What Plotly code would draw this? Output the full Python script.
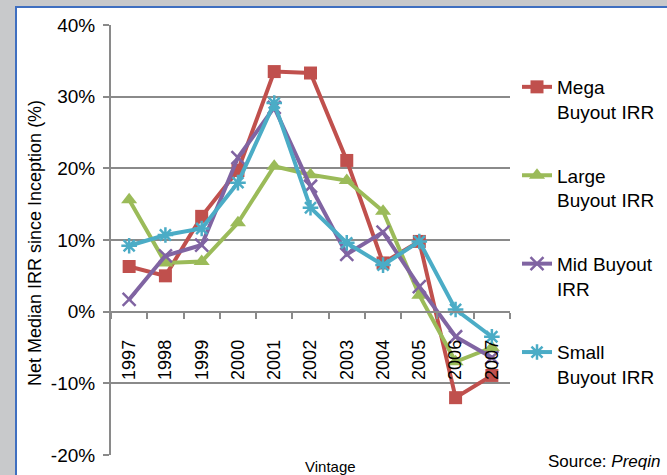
import plotly.graph_objects as go

years = ["1997", "1998", "1999", "2000", "2001", "2002", "2003", "2004", "2005", "2006", "2007"]
mega = [6.3, 5.0, 13.3, 19.7, 33.5, 33.3, 21.1, 6.8, 9.8, -12.0, -8.9]
large = [15.6, 6.8, 7.0, 12.4, 20.3, 19.1, 18.3, 14.0, 2.3, -7.0, -5.0]
mid = [1.7, 7.8, 9.3, 21.5, 28.5, 17.5, 8.0, 11.1, 3.5, -3.5, -6.4]
small = [9.2, 10.7, 11.6, 18.0, 29.1, 14.5, 9.6, 6.5, 9.8, 0.3, -3.5]
y_ticks = [-20, -10, 0, 10, 20, 30, 40]
y_ticklabels = ["-20%", "-10%", "0%", "10%", "20%", "30%", "40%"]

series = [
    ("Mega<br>Buyout IRR", mega, "#C0504D", dict(symbol="square", size=13)),
    ("Large<br>Buyout IRR", large, "#9BBB59", dict(symbol="triangle-up", size=14)),
    ("Mid Buyout<br>IRR", mid, "#8064A2", dict(symbol="x-thin-open", size=13, line=dict(width=2.5))),
    ("Small<br>Buyout IRR", small, "#4BACC6", dict(symbol="asterisk-open", size=13, line=dict(width=2.5))),
]

FONT = "Liberation Sans, Arial, sans-serif"
fig = go.Figure()
for i, (name, vals, color, mk) in enumerate(series):
    mk = dict(mk)
    mk["color"] = color
    if "line" in mk:
        mk["line"]["color"] = color
    fig.add_trace(go.Scatter(
        x=years, y=vals, name=name, mode="lines+markers",
        line=dict(color=color, width=4), marker=mk, legendgroup=f"g{i}",
    ))

W, H = 667, 475
L, R, T, B = 111, 157, 25, 20
pw, ph = W - L - R, H - T - B

def px(x):
    return (x - L) / pw

def py(y):
    return 1 - (y - T) / ph

grid = "#8a8a8a"
fig.update_layout(
    width=W, height=H,
    margin=dict(l=L, r=R, t=T, b=B, autoexpand=False),
    paper_bgcolor="#c8c9cb",
    plot_bgcolor="white",
    font=dict(family=FONT, color="#000000"),
    showlegend=True,
    legend=dict(
        x=px(517), y=py(68), xanchor="left", yanchor="top",
        font=dict(size=19, family=FONT, color="#000000"),
        valign="top", tracegroupgap=36, bgcolor="rgba(0,0,0,0)",
        itemwidth=30,
    ),
    xaxis=dict(
        type="category", anchor="free", position=1/3,
        range=[-0.5, len(years) - 0.5],
        showline=True, linecolor=grid, linewidth=2,
        ticks="outside", ticklen=6, tickwidth=2, tickcolor=grid,
        tickson="boundaries", tickangle=-90,
        tickfont=dict(size=18, family=FONT, color="#000000"),
        showgrid=False, zeroline=False,
        ticklabelstandoff=20,
    ),
    yaxis=dict(
        range=[-20, 40], tickvals=y_ticks, ticktext=y_ticklabels,
        showline=True, linecolor=grid, linewidth=2,
        showgrid=True, gridcolor=grid, gridwidth=2,
        zeroline=True, zerolinecolor=grid, zerolinewidth=2,
        ticks="outside", ticklen=6, tickwidth=2, tickcolor=grid,
        tickfont=dict(size=19, family=FONT, color="#000000"),
        ticklabelstandoff=4,
    ),
    shapes=[dict(
        type="rect", xref="paper", yref="paper", layer="below",
        x0=px(16), x1=px(690), y0=py(500), y1=py(7),
        fillcolor="white", line=dict(color="#3f6fc0", width=2),
    )],
    annotations=[
        dict(text="Net Median IRR since Inception (%)", textangle=-90,
             xref="paper", yref="paper", x=px(35), y=py(243),
             xanchor="center", yanchor="middle", showarrow=False,
             font=dict(size=18, family=FONT, color="#000000")),
        dict(text="Vintage", xref="paper", yref="paper", x=px(330), y=py(466),
             xanchor="center", yanchor="middle", showarrow=False,
             font=dict(size=15, family=FONT, color="#000000")),
        dict(text="Source: <i>Preqin</i>", xref="paper", yref="paper", x=px(662), y=py(462),
             xanchor="right", yanchor="middle", showarrow=False,
             font=dict(size=17, family=FONT, color="#000000")),
    ],
)

fig.write_html("out.html", config={"displayModeBar": False},
               post_script="document.body.style.margin='0';document.body.style.padding='0';")
